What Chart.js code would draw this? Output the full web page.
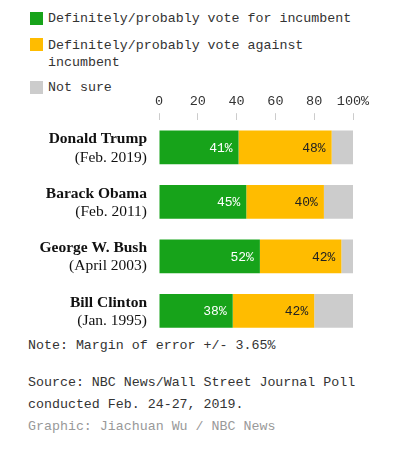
<!DOCTYPE html>
<html><head><meta charset="utf-8">
<script src="https://cdn.jsdelivr.net/npm/chart.js@4"></script>
<style>
body{margin:0;width:414px;height:456px;background:#fff;position:relative;font-family:"Liberation Mono",monospace;font-size:13.3px;color:#333;}
.t{position:absolute;white-space:nowrap;}
.sq{position:absolute;width:13px;height:13px;}
#wrap{position:absolute;left:0;top:89px;width:414px;height:249px;}
</style></head><body>
<div class="sq" style="left:30px;top:12px;background:#17a31a"></div>
<div class="t" style="left:48px;top:11px">Definitely/probably vote for incumbent</div>
<div class="sq" style="left:30px;top:38px;background:#ffbc00"></div>
<div class="t" style="left:48px;top:37px;line-height:17px">Definitely/probably vote against<br>incumbent</div>
<div class="sq" style="left:30px;top:81px;background:#cccccc"></div>
<div class="t" style="left:48px;top:80px">Not sure</div>
<div id="wrap"><canvas id="c"></canvas></div>
<div class="t" style="left:28px;top:338px">Note: Margin of error +/- 3.65%</div>
<div class="t" style="left:28px;top:375px">Source: NBC News/Wall Street Journal Poll</div>
<div class="t" style="left:28px;top:397px">conducted Feb. 24-27, 2019.</div>
<div class="t" style="left:28px;top:419px;color:#999">Graphic: Jiachuan Wu / NBC News</div>
<script>
const names=["Donald Trump","Barack Obama","George W. Bush","Bill Clinton"];
const dates=["(Feb. 2019)","(Feb. 2011)","(April 2003)","(Jan. 1995)"];
const forVals=[41,45,52,38];
const againstVals=[48,40,42,42];
const notSure=[11,15,6,20];
const ticks=[0,20,40,60,80,100];

const labelPlugin={id:'lbl',afterDatasetsDraw(ch){
  const ctx=ch.ctx, y=ch.scales.y;
  ctx.save();ctx.textAlign='right';ctx.textBaseline='middle';
  names.forEach((n,i)=>{const cy=y.getPixelForValue(i);
    ctx.fillStyle='#111';ctx.font='bold 15.5px "Liberation Serif"';ctx.fillText(n,147,cy-8);
    ctx.font='15.5px "Liberation Serif"';ctx.fillText(dates[i],147,cy+10);});
  ctx.font='13px "Liberation Mono"';
  [0,1].forEach(d=>{const meta=ch.getDatasetMeta(d);
    meta.data.forEach((b,i)=>{const v=ch.data.datasets[d].data[i];
      ctx.fillStyle=d===0?'#fff':'#222';ctx.fillText(v+'%',b.x-6,b.y+1);});});
  ctx.restore();}};

new Chart(document.getElementById('c'),{type:'bar',
 data:{labels:names,datasets:[
  {data:forVals,backgroundColor:'#17a31a'},
  {data:againstVals,backgroundColor:'#ffbc00'},
  {data:notSure,backgroundColor:'#cccccc'}]},
 options:{indexAxis:'y',responsive:true,maintainAspectRatio:false,animation:false,
  layout:{padding:{left:159,right:61,top:0,bottom:0}},
  barPercentage:0.62,categoryPercentage:1,
  plugins:{legend:{display:false},tooltip:{enabled:false}},
  scales:{
   x:{position:'top',stacked:true,min:0,max:100,border:{display:false},
      afterBuildTicks(s){s.ticks=ticks.map(v=>({value:v}));},
      ticks:{callback:v=>v===100?'100%':v,color:'#333',font:{family:'Liberation Mono',size:13.5},padding:4},
      grid:{drawOnChartArea:false,tickLength:7,color:'#ccc'}},
   y:{stacked:true,display:false}}},
 plugins:[labelPlugin]});
</script>
</body></html>
